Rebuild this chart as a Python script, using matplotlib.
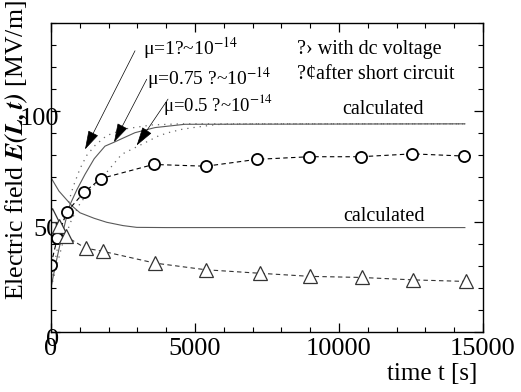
import matplotlib
matplotlib.use('Agg')
import matplotlib.pyplot as plt
from matplotlib.ticker import MultipleLocator
from matplotlib.transforms import ScaledTranslation

plt.rcParams['font.family'] = ['Liberation Serif', 'DejaVu Serif']
plt.rcParams['mathtext.fontset'] = 'stix'

# measured: with dc voltage (circles)
t_dc = [0, 220, 545, 1150, 1730, 3560, 5380, 7140, 8970, 10750, 12550, 14350]
E_dc = [30.5, 42.7, 54.4, 63.3, 69.5, 75.9, 75.1, 78.2, 79.4, 79.4, 80.7, 79.7]

# measured: after short circuit (triangles)
t_sc = [45, 278, 510, 1200, 1816, 3610, 5370, 7250, 8990, 10790, 12580, 14400]
E_sc = [53.2, 47.9, 43.3, 38.0, 36.5, 31.2, 28.2, 26.6, 25.2, 24.7, 23.6, 22.9]

# calculated curves
t_mu1 = [0, 150, 300, 545, 660, 775, 1007, 1240, 1528, 1934, 2570, 3500, 4500, 14370]
E_mu1 = [20, 33, 43, 56, 61, 66, 74, 80, 84.5, 89, 92, 93.8, 94.3, 94.3]

t_mu075 = [0, 150, 300, 500, 660, 900, 1180, 1500, 1875, 2160, 2917, 3611, 4650, 14370]
E_mu075 = [20, 30, 39, 50, 57.7, 64.5, 71.4, 78.5, 84.2, 85.8, 90.3, 92.6, 94.1, 94.3]

t_mu05 = [0, 200, 400, 718, 1000, 1412, 1875, 2160, 2454, 2917, 3380, 3725, 4073, 4538, 4940, 5750, 7000, 14370]
E_mu05 = [20, 30, 40, 51, 58, 65.3, 71.4, 75.9, 80.5, 83.5, 86.5, 88.8, 90.3, 91.8, 92.6, 94, 94.3, 94.3]

t_low = [0, 278, 740, 1007, 1500, 1934, 2500, 2976, 4000, 14370]
E_low = [69.9, 63.8, 57.0, 54.0, 51.5, 49.7, 48.2, 47.4, 47.3, 47.3]

fig = plt.figure(figsize=(5.21, 3.92), dpi=100)
ax = fig.add_axes([0.0979, 0.1531, 0.8292, 0.7883])

ax.plot(t_mu1, E_mu1, color='0.4', lw=0.9, ls=(0, (1, 4)))
ax.plot(t_mu05, E_mu05, color='0.4', lw=0.9, ls=(0, (1, 4)))
ax.plot(t_mu075, E_mu075, color='0.35', lw=0.8)
ax.plot(t_low, E_low, color='0.35', lw=0.8)

ax.plot(t_dc, E_dc, color='black', lw=0.8, ls=(0, (4, 3)), marker='o', ms=8,
        mfc='white', mec='black', mew=1.3)
ax.plot(t_sc, E_sc, color='0.2', lw=0.8, ls=(0, (4, 3)), marker='^', ms=10,
        mfc='white', mec='0.2', mew=0.9)

ax.set_xlim(0, 15000)
ax.set_ylim(0, 140)
ax.xaxis.set_major_locator(MultipleLocator(5000))
ax.xaxis.set_minor_locator(MultipleLocator(1000))
ax.yaxis.set_major_locator(MultipleLocator(50))
ax.yaxis.set_minor_locator(MultipleLocator(10))
ax.tick_params(which='both', direction='in', top=True, right=True, labelsize=19)
ax.tick_params(which='major', length=6.5, width=0.9)
ax.tick_params(which='minor', length=3.5, width=0.8)
ax.tick_params(axis='y', pad=-6)
ax.tick_params(axis='x', pad=4)
for lab in ax.get_yticklabels():
    lab.set_transform(lab.get_transform() + ScaledTranslation(0, -4 / 72, fig.dpi_scale_trans))
for s in ax.spines.values():
    s.set_linewidth(1.0)

# arrows
arrows = [((2917, 127.4), (1181, 82.7)),
          ((3323, 114.5), (2188, 86.0)),
          ((4063, 105.5), (2975, 84.5))]
for tail, tip in arrows:
    ax.annotate('', xy=tip, xytext=tail,
                arrowprops=dict(arrowstyle='-|>,head_length=1.2,head_width=0.35',
                                color='black', lw=0.5, shrinkA=0, shrinkB=0))

ax.text(3194, 125.9, 'μ=1?~10$^{-14}$', fontsize=14, va='baseline')
ax.text(3333, 112.0, 'μ=0.75 ?~10$^{-14}$', fontsize=14, va='baseline')
ax.text(3889, 100.0, 'μ=0.5 ?~10$^{-14}$', fontsize=13.5, va='baseline')
ax.text(8542, 126.0, '?› with dc voltage', fontsize=14.5, va='baseline')
ax.text(8542, 114.5, '?¢after short circuit', fontsize=14.5, va='baseline')
ax.text(10104, 98.6, 'calculated', fontsize=14.5, va='baseline')
ax.text(10139, 50.5, 'calculated', fontsize=14.5, va='baseline')

fig.text(477 / 521, 1 - 374 / 392, 'time t [s]', fontsize=18, ha='right', va='center')
fig.text(17 / 521, 1 - 150 / 392, r'Electric field $\mathbfit{E(L,t)}$ [MV/m]',
         fontsize=18.5, rotation=90, ha='center', va='center')

fig.savefig('out.png', dpi=100)
